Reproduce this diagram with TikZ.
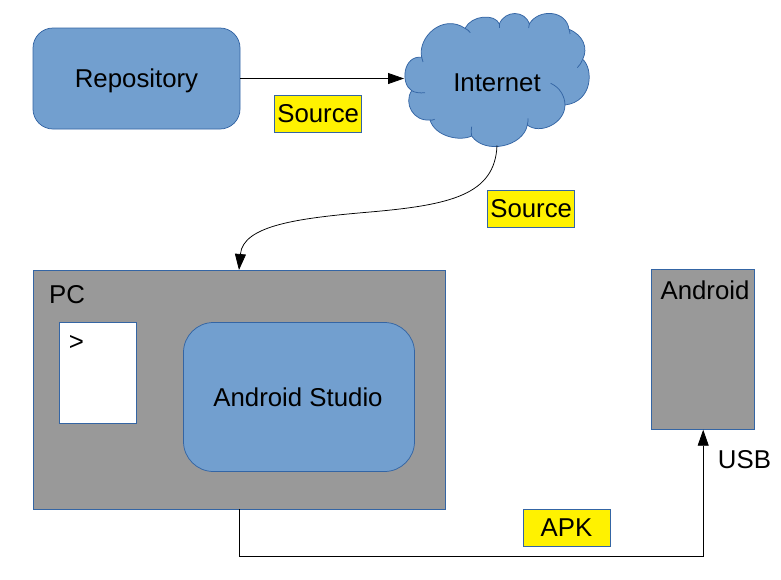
\documentclass[tikz,border=0pt]{standalone}
\usepackage{fontspec}
\setmainfont{Liberation Sans}
\usetikzlibrary{arrows.meta}
\definecolor{skyb}{HTML}{729FCF}
\definecolor{edgeb}{HTML}{3465A4}
\definecolor{greyb}{HTML}{999999}
\tikzset{
  every node/.style={font=\fontsize{25.8}{30}\selectfont, text=black, inner sep=0pt, outer sep=0pt},
  blueround/.style={draw=edgeb, fill=skyb, line width=0.75pt, anchor=north west},
  greybox/.style={draw=edgeb, fill=greyb, line width=0.75pt, anchor=north west},
  whitebox/.style={draw=edgeb, fill=white, line width=0.75pt, anchor=north west},
  tag/.style={draw=edgeb, fill=yellow, line width=0.5pt, minimum width=87pt, minimum height=37pt},
  conn/.style={draw=black, line width=0.75pt, -{Triangle[length=16pt,width=11pt]}},
  cloudline/.style={draw=edgeb, line width=0.75pt}
}
\begin{document}
\begin{tikzpicture}[x=1pt,y=-1pt]
\useasboundingbox (0,0) rectangle (781,579);
% cloud outline
\begin{scope}[shift={(390,0)},x=0.3333pt,y=-0.3333pt]
\draw[cloudline,fill=skyb]
 (95,172) .. controls (82,110) and (160,40) .. (225,85)
 .. controls (245,45) and (315,40) .. (328,72)
 .. controls (345,30) and (405,30) .. (418,72)
 .. controls (445,25) and (530,30) .. (537,88)
 .. controls (580,105) and (595,145) .. (578,178)
 .. controls (610,205) and (610,305) .. (525,315)
 .. controls (525,370) and (450,405) .. (412,375)
 .. controls (400,440) and (285,465) .. (245,408)
 .. controls (210,425) and (135,410) .. (120,360)
 .. controls (70,365) and (40,310) .. (65,272)
 .. controls (30,250) and (40,165) .. (95,172) -- cycle;
\draw[cloudline] (65,272) .. controls (75,278) and (90,280) .. (105,278);
\draw[cloudline] (120,360) .. controls (122,362) and (128,360) .. (134,358);
\draw[cloudline] (245,408) .. controls (243,400) and (243,390) .. (245,380);
\draw[cloudline] (412,375) .. controls (414,368) and (414,362) .. (414,355);
\draw[cloudline] (482,250) .. controls (510,262) and (525,290) .. (525,315);
\draw[cloudline] (578,178) .. controls (575,188) and (568,197) .. (562,203);
\draw[cloudline] (537,88) .. controls (539,94) and (540,98) .. (540,102);
\draw[cloudline] (418,72) .. controls (417,76) and (416,80) .. (416,84);
\draw[cloudline] (328,72) .. controls (328,76) and (328,80) .. (328,84);
\draw[cloudline] (225,85) .. controls (232,88) and (237,93) .. (241,98);
\draw[cloudline] (95,172) .. controls (96,178) and (97,182) .. (99,186);
\end{scope}
\node[minimum width=186pt,minimum height=134pt] (internet) at (497,78.5) {};
\node (internettext) at (497,83) {Internet};
% boxes
\node[blueround,rounded corners=20pt,minimum width=207pt,minimum height=101pt] (repo) at (33,28) {};
\node (repotext) at (136.5,81) {Repository};
\node[greybox,minimum width=412pt,minimum height=239pt] (pc) at (33,270) {};
\node (pclabel) at (67,295) {PC};
\node[whitebox,minimum width=77pt,minimum height=101pt] (term) at (59,322) {};
\node (prompt) at (76.5,343) {>};
\node[blueround,rounded corners=30pt,minimum width=231pt,minimum height=149pt] (studio) at (183.5,322.5) {};
\node (studiotext) at (298,397) {Android Studio};
\node[greybox,minimum width=103pt,minimum height=160pt] (android) at (651.7,269.7) {};
\node (androidlabel) at (705,290) {Android};
% tags
\node[tag] (src1) at (318.2,113.5) {Source};
\node[tag] (src2) at (531.2,208.5) {Source};
\node[tag] (apk) at (566.5,527.5) {APK};
\node (usb) at (744.5,460) {USB};
% connectors
\draw[conn] (repo.east) -- (internet.west);
\draw[conn] (internet.south) .. controls (495,195) and (450,205) .. (370,212) .. controls (300,218) and (243,225) .. (pc.north);
\draw[conn] (pc.south) -- ++(0,47) -| (android.south);
\end{tikzpicture}
\end{document}
